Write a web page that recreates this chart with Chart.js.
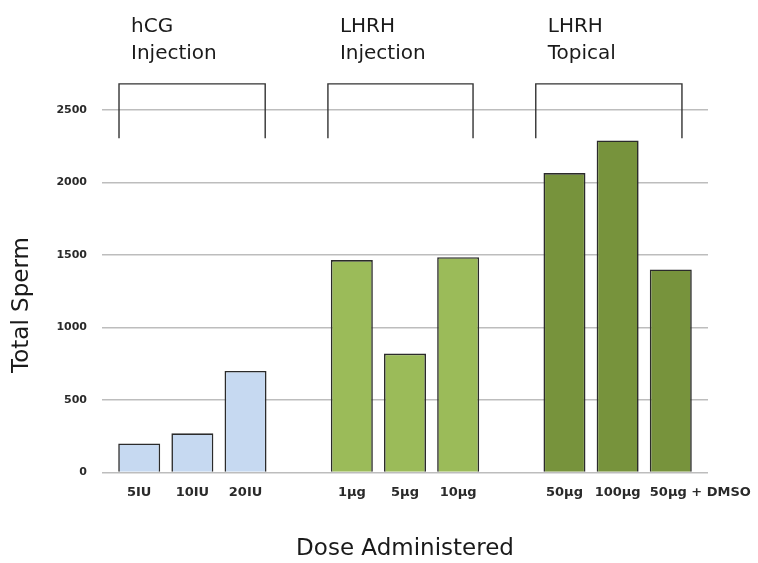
<!DOCTYPE html>
<html>
<head>
<meta charset="utf-8">
<script src="https://cdn.jsdelivr.net/npm/chart.js@4.4.1/dist/chart.umd.min.js"></script>
<style>
  html, body { margin: 0; padding: 0; background: #ffffff; }
  #wrap { width: 758px; height: 563px; }
</style>
</head>
<body>
<div id="wrap"><canvas id="c" width="758" height="563"></canvas></div>
<script>
// ---- data ----
const categories = ['5IU', '10IU', '20IU', '1\u00B5g', '5\u00B5g', '10\u00B5g', '50\u00B5g', '100\u00B5g', '50\u00B5g + DMSO'];
const groupIndex = [0, 0, 0, 1, 1, 1, 2, 2, 2];
const totalSperm = [200, 270, 700, 1465, 820, 1485, 2065, 2290, 1400];
const groupNames = [['hCG', 'Injection'], ['LHRH', 'Injection'], ['LHRH', 'Topical']];
const groupColors = ['#c6d9f1', '#9bbb59', '#77933c'];
const yTicks = [0, 500, 1000, 1500, 2000, 2500];
// bracket spans (in category units) and bracket heights (in value units)
const bracketFrom = [-0.38, 3.55, 7.46];
const bracketTo = [2.37, 6.28, 10.21];
const bracketTop = 2680;
const bracketBottom = 2305;

// bar positions: one empty slot between groups
const xPos = categories.map((c, i) => i + groupIndex[i]);
const points = totalSperm.map((v, i) => ({ x: xPos[i], y: v }));
const barColors = groupIndex.map(g => groupColors[g]);

const overlay = {
  id: 'overlay',
  afterDraw(chart) {
    const ctx = chart.ctx;
    const xs = chart.scales.x, ys = chart.scales.y;
    ctx.save();
    // brackets
    ctx.strokeStyle = '#333333';
    ctx.lineWidth = 1.4;
    const yT = ys.getPixelForValue(bracketTop);
    const yB = ys.getPixelForValue(bracketBottom);
    for (let g = 0; g < bracketFrom.length; g++) {
      const x1 = xs.getPixelForValue(bracketFrom[g]);
      const x2 = xs.getPixelForValue(bracketTo[g]);
      ctx.beginPath();
      ctx.moveTo(x1, yB);
      ctx.lineTo(x1, yT);
      ctx.lineTo(x2, yT);
      ctx.lineTo(x2, yB);
      ctx.stroke();
      // group names
      ctx.fillStyle = '#1a1a1a';
      ctx.font = '20px "DejaVu Sans"';
      ctx.textAlign = 'left';
      ctx.textBaseline = 'alphabetic';
      ctx.fillText(groupNames[g][0], x1 + 12, 32);
      ctx.fillText(groupNames[g][1], x1 + 12, 59);
    }
    // category labels
    ctx.fillStyle = '#2a2a2a';
    ctx.font = 'bold 13px "DejaVu Sans"';
    ctx.textBaseline = 'middle';
    const meta = chart.getDatasetMeta(0);
    categories.forEach((lab, i) => {
      const bar = meta.data[i];
      const last = i === categories.length - 1;
      if (last) {
        ctx.textAlign = 'left';
        ctx.fillText(lab, bar.x - bar.width / 2, 493);
      } else {
        ctx.textAlign = 'center';
        ctx.fillText(lab, xs.getPixelForValue(xPos[i]), 493);
      }
    });
    // y axis title
    ctx.translate(22, 305);
    ctx.rotate(-Math.PI / 2);
    ctx.textAlign = 'center';
    ctx.textBaseline = 'middle';
    ctx.fillStyle = '#1a1a1a';
    ctx.font = '23px "DejaVu Sans"';
    ctx.fillText('Total Sperm', 0, 0);
    ctx.restore();
  }
};

new Chart(document.getElementById('c'), {
  type: 'bar',
  data: {
    datasets: [{
      data: points,
      backgroundColor: barColors,
      borderColor: '#2b2b2b',
      borderWidth: 1.6,
      barPercentage: 0.79,
      categoryPercentage: 1.0
    }]
  },
  options: {
    responsive: false,
    animation: false,
    devicePixelRatio: 1,
    layout: { padding: { top: 81, right: 50, left: 0, bottom: 0 } },
    plugins: { legend: { display: false }, tooltip: { enabled: false } },
    scales: {
      x: {
        type: 'linear',
        offset: false,
        min: -0.7,
        max: 10.7,
        afterBuildTicks(scale) {
          scale.ticks = xPos.map(v => ({ value: v }));
        },
        ticks: { display: false },
        grid: { display: false, offset: false },
        border: { display: false },
        title: {
          display: true,
          text: 'Dose Administered',
          color: '#1a1a1a',
          font: { family: '"DejaVu Sans"', size: 23 },
          padding: { top: 0, bottom: 0 }
        },
        afterFit(scale) { scale.height = 90.5; }
      },
      y: {
        min: 0,
        max: 2700,
        afterBuildTicks(scale) {
          scale.ticks = yTicks.map(v => ({ value: v }));
        },
        ticks: {
          color: '#2a2a2a',
          font: { family: '"DejaVu Sans"', size: 11, weight: 'bold' },
          padding: 15,
          callback: v => String(v)
        },
        grid: { color: '#bdbdbd', lineWidth: 1.4, drawTicks: false },
        border: { display: false },
        afterFit(scale) { scale.width = 102; }
      }
    }
  },
  plugins: [overlay]
});
</script>
</body>
</html>
